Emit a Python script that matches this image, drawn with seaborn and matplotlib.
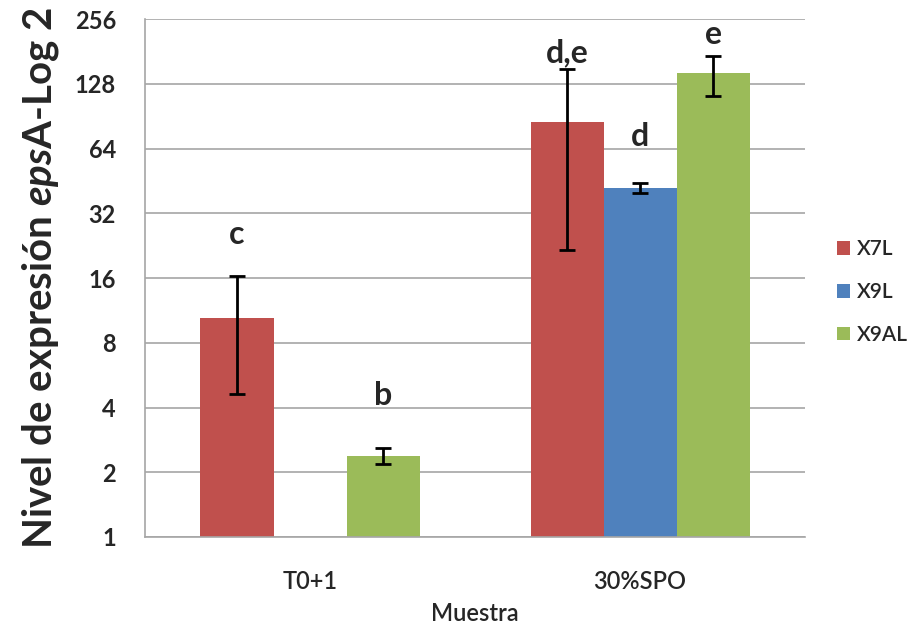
import numpy as np
import pandas as pd
import matplotlib
matplotlib.use("Agg")
import matplotlib.pyplot as plt
import seaborn as sns

# Expression values (fold change) per sample and strain
samples = ["T0+1", "30%SPO"]
strains = ["X7L", "X9L", "X9AL"]
values = {
    "X7L": [10.4, 85.0],
    "X9L": [np.nan, 41.9],
    "X9AL": [2.38, 143.0],
}
err_low = {
    "X7L": [4.6, 21.6],
    "X9L": [np.nan, 39.7],
    "X9AL": [2.18, 112.0],
}
err_high = {
    "X7L": [16.3, 150.0],
    "X9L": [np.nan, 44.2],
    "X9AL": [2.59, 172.0],
}
letters = {
    "X7L": ["c", "d,e"],
    "X9L": [None, "d"],
    "X9AL": ["b", "e"],
}
# distance (points) between the top of the error bar and the letter baseline
letter_gap = {
    "X7L": [23, 5],
    "X9L": [None, 27],
    "X9AL": [31, 9],
}
colors = ["#C0504D", "#4F81BD", "#9BBB59"]
y_ticks = [1, 2, 4, 8, 16, 32, 64, 128, 256]

rows = []
for s in strains:
    for i, smp in enumerate(samples):
        rows.append({"Muestra": smp, "Cepa": s, "valor": values[s][i]})
df = pd.DataFrame(rows)

sns.set_style("white")
plt.rcParams["font.family"] = ["Lato", "DejaVu Sans"]
plt.rcParams["mathtext.fontset"] = "custom"
plt.rcParams["mathtext.it"] = "Lato:italic:bold"
plt.rcParams["mathtext.rm"] = "Lato:bold"

fig = plt.figure(figsize=(9.18, 6.37), dpi=100)
ax = fig.add_axes([0.158, 0.157, 0.719, 0.813])

sns.barplot(data=df, x="Muestra", y="valor", hue="Cepa", order=samples,
            hue_order=strains, palette=colors, width=0.664, gap=0,
            errorbar=None, saturation=1, ax=ax, linewidth=0)

ax.set_xlim(-0.5, 1.5)
ax.set_yscale("log", base=2)
ax.set_ylim(1, 256)
ax.set_yticks(y_ticks)
ax.set_yticklabels([str(t) for t in y_ticks], fontsize=17, fontweight="bold")
ax.minorticks_off()
ax.yaxis.grid(True, color="#A6A6A6", linewidth=1.2)
ax.set_axisbelow(True)
ax.tick_params(axis="y", length=0, pad=21)
ax.tick_params(axis="x", length=0, labelsize=17, pad=24)
for lbl in ax.get_xticklabels():
    lbl.set_fontweight(600)

for side in ["top", "right"]:
    ax.spines[side].set_visible(False)
for side in ["left", "bottom"]:
    ax.spines[side].set_color("#A6A6A6")
    ax.spines[side].set_linewidth(1.2)

# Error bars and significance letters on each bar
for container, s in zip(ax.containers, strains):
    for bar in container:
        xc = bar.get_x() + bar.get_width() / 2
        i = int(round(xc))
        v = values[s][i]
        if np.isnan(v):
            continue
        lo, hi = err_low[s][i], err_high[s][i]
        ax.errorbar(xc, v, yerr=[[v - lo], [hi - v]], fmt="none",
                    ecolor="black", elinewidth=2, capsize=6, capthick=2)
        if letters[s][i]:
            ax.annotate(letters[s][i], (xc, hi), xytext=(0, letter_gap[s][i]),
                        textcoords="offset points", ha="center", va="baseline",
                        fontsize=23, fontweight="bold")

ax.set_xlabel("Muestra", fontsize=17, fontweight=600, labelpad=6)
ax.set_ylabel("Nivel de expresión $\\it{eps}$A-Log 2", fontsize=29,
              fontweight="bold", labelpad=10)

handles, labels = ax.get_legend_handles_labels()
leg = ax.legend(handles, labels, loc="center left", bbox_to_anchor=(1.036, 0.473),
                frameon=False, fontsize=15, handlelength=0.63, handleheight=0.63,
                labelspacing=1.1, handletextpad=0.34, borderaxespad=0)
for t in leg.get_texts():
    t.set_fontweight(600)

fig.savefig("out.png", dpi=100)
